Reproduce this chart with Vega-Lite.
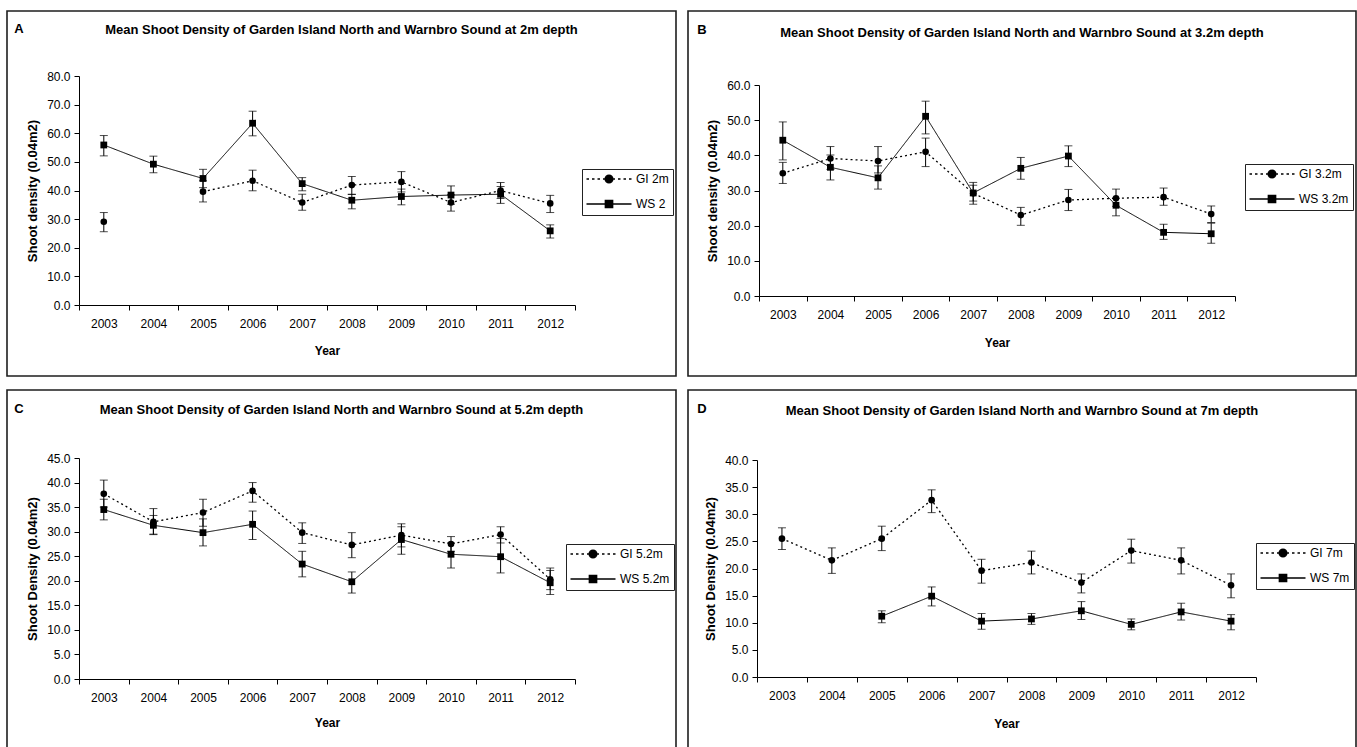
{
  "$schema": "https://vega.github.io/schema/vega-lite/v6.json",
  "padding": {"left": 6, "top": 10, "right": 0, "bottom": 0},
  "background": "white",
  "datasets": {
    "A": [
      {"year": 2003, "series": "GI 2m", "value": 29.1, "lo": 25.6, "hi": 32.3},
      {"year": 2004, "series": "GI 2m", "value": null, "lo": null, "hi": null},
      {"year": 2005, "series": "GI 2m", "value": 39.6, "lo": 36.0, "hi": 43.4},
      {"year": 2006, "series": "GI 2m", "value": 43.4, "lo": 39.9, "hi": 47.1},
      {"year": 2007, "series": "GI 2m", "value": 35.8, "lo": 33.1, "hi": 38.7},
      {"year": 2008, "series": "GI 2m", "value": 41.9, "lo": 38.6, "hi": 44.9},
      {"year": 2009, "series": "GI 2m", "value": 43.0, "lo": 39.5, "hi": 46.6},
      {"year": 2010, "series": "GI 2m", "value": 35.8, "lo": 32.8, "hi": 38.5},
      {"year": 2011, "series": "GI 2m", "value": 40.0, "lo": 37.2, "hi": 42.8},
      {"year": 2012, "series": "GI 2m", "value": 35.5, "lo": 32.3, "hi": 38.3},
      {"year": 2003, "series": "WS 2", "value": 55.9, "lo": 52.1, "hi": 59.2},
      {"year": 2004, "series": "WS 2", "value": 49.2, "lo": 46.2, "hi": 52.0},
      {"year": 2005, "series": "WS 2", "value": 44.2, "lo": 41.0, "hi": 47.4},
      {"year": 2006, "series": "WS 2", "value": 63.5, "lo": 59.1, "hi": 67.7},
      {"year": 2007, "series": "WS 2", "value": 42.4, "lo": 39.9, "hi": 44.5},
      {"year": 2008, "series": "WS 2", "value": 36.6, "lo": 33.6, "hi": 38.7},
      {"year": 2009, "series": "WS 2", "value": 37.9, "lo": 35.0, "hi": 40.5},
      {"year": 2010, "series": "WS 2", "value": 38.4, "lo": 35.2, "hi": 41.6},
      {"year": 2011, "series": "WS 2", "value": 38.7, "lo": 35.5, "hi": 41.4},
      {"year": 2012, "series": "WS 2", "value": 25.9, "lo": 23.4, "hi": 28.0}
    ],
    "B": [
      {"year": 2003, "series": "GI 3.2m", "value": 34.9, "lo": 32.0, "hi": 38.0},
      {"year": 2004, "series": "GI 3.2m", "value": 39.1, "lo": 36.0, "hi": 42.5},
      {"year": 2005, "series": "GI 3.2m", "value": 38.4, "lo": 35.0, "hi": 42.5},
      {"year": 2006, "series": "GI 3.2m", "value": 41.0, "lo": 36.8, "hi": 44.9},
      {"year": 2007, "series": "GI 3.2m", "value": 29.2, "lo": 27.0, "hi": 32.3},
      {"year": 2008, "series": "GI 3.2m", "value": 23.0, "lo": 20.1, "hi": 25.2},
      {"year": 2009, "series": "GI 3.2m", "value": 27.3, "lo": 24.3, "hi": 30.3},
      {"year": 2010, "series": "GI 3.2m", "value": 27.8, "lo": 25.5, "hi": 30.4},
      {"year": 2011, "series": "GI 3.2m", "value": 28.1, "lo": 25.8, "hi": 30.7},
      {"year": 2012, "series": "GI 3.2m", "value": 23.3, "lo": 20.9, "hi": 25.6},
      {"year": 2003, "series": "WS 3.2m", "value": 44.3, "lo": 38.7, "hi": 49.5},
      {"year": 2004, "series": "WS 3.2m", "value": 36.6, "lo": 33.0, "hi": 40.1},
      {"year": 2005, "series": "WS 3.2m", "value": 33.6, "lo": 30.4, "hi": 37.0},
      {"year": 2006, "series": "WS 3.2m", "value": 51.1, "lo": 46.1, "hi": 55.4},
      {"year": 2007, "series": "WS 3.2m", "value": 29.3, "lo": 26.1, "hi": 31.5},
      {"year": 2008, "series": "WS 3.2m", "value": 36.3, "lo": 33.2, "hi": 39.4},
      {"year": 2009, "series": "WS 3.2m", "value": 39.8, "lo": 36.8, "hi": 42.7},
      {"year": 2010, "series": "WS 3.2m", "value": 25.8, "lo": 22.8, "hi": 27.8},
      {"year": 2011, "series": "WS 3.2m", "value": 18.1, "lo": 16.1, "hi": 20.4},
      {"year": 2012, "series": "WS 3.2m", "value": 17.7, "lo": 15.0, "hi": 20.7}
    ],
    "C": [
      {"year": 2003, "series": "GI 5.2m", "value": 37.7, "lo": 35.0, "hi": 40.5},
      {"year": 2004, "series": "GI 5.2m", "value": 32.0, "lo": 29.5, "hi": 34.7},
      {"year": 2005, "series": "GI 5.2m", "value": 33.9, "lo": 31.1, "hi": 36.6},
      {"year": 2006, "series": "GI 5.2m", "value": 38.3, "lo": 36.0, "hi": 40.0},
      {"year": 2007, "series": "GI 5.2m", "value": 29.8, "lo": 27.6, "hi": 31.8},
      {"year": 2008, "series": "GI 5.2m", "value": 27.3, "lo": 24.7, "hi": 29.8},
      {"year": 2009, "series": "GI 5.2m", "value": 29.3, "lo": 26.9, "hi": 31.6},
      {"year": 2010, "series": "GI 5.2m", "value": 27.5, "lo": 26.0, "hi": 29.0},
      {"year": 2011, "series": "GI 5.2m", "value": 29.4, "lo": 27.7, "hi": 31.0},
      {"year": 2012, "series": "GI 5.2m", "value": 20.3, "lo": 18.2, "hi": 22.6},
      {"year": 2003, "series": "WS 5.2m", "value": 34.5, "lo": 32.4, "hi": 36.6},
      {"year": 2004, "series": "WS 5.2m", "value": 31.3, "lo": 29.4, "hi": 33.3},
      {"year": 2005, "series": "WS 5.2m", "value": 29.8, "lo": 27.1, "hi": 32.6},
      {"year": 2006, "series": "WS 5.2m", "value": 31.5, "lo": 28.4, "hi": 34.2},
      {"year": 2007, "series": "WS 5.2m", "value": 23.4, "lo": 20.8, "hi": 26.0},
      {"year": 2008, "series": "WS 5.2m", "value": 19.8, "lo": 17.5, "hi": 21.8},
      {"year": 2009, "series": "WS 5.2m", "value": 28.4, "lo": 25.4, "hi": 31.0},
      {"year": 2010, "series": "WS 5.2m", "value": 25.4, "lo": 22.6, "hi": 27.7},
      {"year": 2011, "series": "WS 5.2m", "value": 24.9, "lo": 21.6, "hi": 28.6},
      {"year": 2012, "series": "WS 5.2m", "value": 19.6, "lo": 17.2, "hi": 22.1}
    ],
    "D": [
      {"year": 2003, "series": "GI 7m", "value": 25.5, "lo": 23.5, "hi": 27.5},
      {"year": 2004, "series": "GI 7m", "value": 21.5, "lo": 19.1, "hi": 23.8},
      {"year": 2005, "series": "GI 7m", "value": 25.5, "lo": 23.3, "hi": 27.8},
      {"year": 2006, "series": "GI 7m", "value": 32.6, "lo": 30.3, "hi": 34.5},
      {"year": 2007, "series": "GI 7m", "value": 19.6, "lo": 17.3, "hi": 21.7},
      {"year": 2008, "series": "GI 7m", "value": 21.1, "lo": 19.0, "hi": 23.2},
      {"year": 2009, "series": "GI 7m", "value": 17.4, "lo": 15.5, "hi": 19.0},
      {"year": 2010, "series": "GI 7m", "value": 23.3, "lo": 21.0, "hi": 25.4},
      {"year": 2011, "series": "GI 7m", "value": 21.5, "lo": 19.0, "hi": 23.8},
      {"year": 2012, "series": "GI 7m", "value": 16.9, "lo": 14.6, "hi": 19.0},
      {"year": 2005, "series": "WS 7m", "value": 11.2, "lo": 10.0, "hi": 12.2},
      {"year": 2006, "series": "WS 7m", "value": 14.9, "lo": 13.1, "hi": 16.6},
      {"year": 2007, "series": "WS 7m", "value": 10.3, "lo": 8.8, "hi": 11.7},
      {"year": 2008, "series": "WS 7m", "value": 10.7, "lo": 9.7, "hi": 11.7},
      {"year": 2009, "series": "WS 7m", "value": 12.2, "lo": 10.6, "hi": 13.9},
      {"year": 2010, "series": "WS 7m", "value": 9.7, "lo": 8.7, "hi": 10.7},
      {"year": 2011, "series": "WS 7m", "value": 12.0, "lo": 10.5, "hi": 13.6},
      {"year": 2012, "series": "WS 7m", "value": 10.3, "lo": 8.7, "hi": 11.5}
    ]
  },
  "spacing": 12,
  "resolve": {"scale": {"shape": "independent", "stroke": "independent", "fill": "independent"}, "legend": {"shape": "independent", "stroke": "independent", "fill": "independent"}},
  "vconcat": [
    {
      "spacing": 10,
      "resolve": {"scale": {"shape": "independent", "stroke": "independent", "fill": "independent"}, "legend": {"shape": "independent", "stroke": "independent", "fill": "independent"}},
      "hconcat": [
        {
          "title": {"text": "A", "anchor": "start", "offset": -26, "dx": 8},
          "vconcat": [
            {
              "width": 669, "height": 365,
              "title": {"text": "Mean Shoot Density of Garden Island North and Warnbro Sound at 2m depth", "anchor": "middle", "offset": -26},
              "data": {"name": "A"},
              "encoding": {
                "x": {"field": "year", "type": "ordinal", "scale": {"type": "band", "domain": [2003, 2004, 2005, 2006, 2007, 2008, 2009, 2010, 2011, 2012], "range": [72, 568], "paddingInner": 0, "paddingOuter": 0},
                  "axis": {"title": "Year", "offset": -71, "labelAngle": 0, "tickBand": "extent", "tickSize": 5, "labelPadding": 8, "labelFontSize": 12, "titleFontSize": 12, "titlePadding": 16}}
              },
              "layer": [
                {
                  "mark": {"type": "line", "color": "black"},
                  "encoding": {
                    "y": {"field": "value", "type": "quantitative", "scale": {"domain": [0, 80], "range": [294, 65], "nice": false},
                      "axis": {"title": "Shoot density (0.04m2)", "offset": -72, "values": [0, 10, 20, 30, 40, 50, 60, 70, 80], "format": ".1f", "tickSize": 5, "labelPadding": 4, "labelFontSize": 12, "titleFontSize": 13, "titlePadding": 7}},
                    "detail": {"field": "series"},
                    "strokeDash": {"condition": {"test": "indexof(datum.series, 'GI') === 0", "value": [2, 3]}, "value": [1, 0]},
                    "strokeWidth": {"condition": {"test": "indexof(datum.series, 'GI') === 0", "value": 1.3}, "value": 1}
                  }
                },
                {
                  "mark": {"type": "errorbar", "color": "black", "ticks": {"size": 8, "color": "black"}, "orient": "vertical"},
                  "encoding": {
                    "y": {"field": "lo", "type": "quantitative", "scale": {"domain": [0, 80], "range": [294, 65], "nice": false},
                      "axis": {"title": "Shoot density (0.04m2)", "offset": -72, "values": [0, 10, 20, 30, 40, 50, 60, 70, 80], "format": ".1f", "tickSize": 5, "labelPadding": 4, "labelFontSize": 12, "titleFontSize": 13, "titlePadding": 7}},
                    "y2": {"field": "hi"},
                    "detail": {"field": "series"}
                  }
                },
                {
                  "mark": {"type": "point", "filled": true, "color": "black", "opacity": 1},
                  "encoding": {
                    "y": {"field": "value", "type": "quantitative"},
                    "shape": {"condition": {"test": "indexof(datum.series, 'GI') === 0", "value": "circle"}, "value": "square"},
                    "size": {"condition": {"test": "indexof(datum.series, 'GI') === 0", "value": 44}, "value": 46}
                  }
                },
                {
                  "mark": {"type": "point", "filled": false, "strokeWidth": 1.5, "opacity": 0},
                  "encoding": {
                    "y": {"field": "value", "type": "quantitative"},
                    "shape": {"field": "series", "type": "nominal",
                      "scale": {"domain": ["GI 2m", "WS 2"], "range": ["M-4.5,0H-4M-3.4,0H-2.9M-2.3,0H-1.8M-1.2,0H-0.8M0.8,0H1.2M1.8,0H2.3M2.9,0H3.4M4,0H4.5M0.76,0A0.76,0.76,0,1,1,-0.76,0A0.76,0.76,0,1,1,0.76,0Z", "M-4.5,0H4.5M-0.72,-0.72H0.72V0.72H-0.72Z"]},
                      "legend": {"orient": "none", "legendX": 575, "legendY": 158}},
                    "stroke": {"field": "series", "type": "nominal", "scale": {"domain": ["GI 2m", "WS 2"], "range": ["black", "black"]},
                      "legend": {"orient": "none", "legendX": 575, "legendY": 158}},
                    "fill": {"field": "series", "type": "nominal", "scale": {"domain": ["GI 2m", "WS 2"], "range": ["black", "black"]},
                      "legend": {"orient": "none", "legendX": 575, "legendY": 158}}
                  }
                }
              ]
            }
          ]
        },
        {
          "title": {"text": "B", "anchor": "start", "offset": -27, "dx": 10},
          "vconcat": [
            {
              "width": 668, "height": 365,
              "title": {"text": "Mean Shoot Density of Garden Island North and Warnbro Sound at 3.2m depth", "anchor": "middle", "offset": -29},
              "data": {"name": "B"},
              "encoding": {
                "x": {"field": "year", "type": "ordinal", "scale": {"type": "band", "domain": [2003, 2004, 2005, 2006, 2007, 2008, 2009, 2010, 2011, 2012], "range": [71, 547], "paddingInner": 0, "paddingOuter": 0},
                  "axis": {"title": "Year", "offset": -80, "labelAngle": 0, "tickBand": "extent", "tickSize": 5, "labelPadding": 8, "labelFontSize": 12, "titleFontSize": 12, "titlePadding": 17}}
              },
              "layer": [
                {
                  "mark": {"type": "line", "color": "black"},
                  "encoding": {
                    "y": {"field": "value", "type": "quantitative", "scale": {"domain": [0, 60], "range": [285, 74], "nice": false},
                      "axis": {"title": "Shoot density (0.04m2)", "offset": -71, "values": [0, 10, 20, 30, 40, 50, 60], "format": ".1f", "tickSize": 5, "labelPadding": 4, "labelFontSize": 12, "titleFontSize": 13, "titlePadding": 7}},
                    "detail": {"field": "series"},
                    "strokeDash": {"condition": {"test": "indexof(datum.series, 'GI') === 0", "value": [2, 3]}, "value": [1, 0]},
                    "strokeWidth": {"condition": {"test": "indexof(datum.series, 'GI') === 0", "value": 1.3}, "value": 1}
                  }
                },
                {
                  "mark": {"type": "errorbar", "color": "black", "ticks": {"size": 8, "color": "black"}, "orient": "vertical"},
                  "encoding": {
                    "y": {"field": "lo", "type": "quantitative", "scale": {"domain": [0, 60], "range": [285, 74], "nice": false},
                      "axis": {"title": "Shoot density (0.04m2)", "offset": -71, "values": [0, 10, 20, 30, 40, 50, 60], "format": ".1f", "tickSize": 5, "labelPadding": 4, "labelFontSize": 12, "titleFontSize": 13, "titlePadding": 7}},
                    "y2": {"field": "hi"},
                    "detail": {"field": "series"}
                  }
                },
                {
                  "mark": {"type": "point", "filled": true, "color": "black", "opacity": 1},
                  "encoding": {
                    "y": {"field": "value", "type": "quantitative"},
                    "shape": {"condition": {"test": "indexof(datum.series, 'GI') === 0", "value": "circle"}, "value": "square"},
                    "size": {"condition": {"test": "indexof(datum.series, 'GI') === 0", "value": 44}, "value": 46}
                  }
                },
                {
                  "mark": {"type": "point", "filled": false, "strokeWidth": 1.5, "opacity": 0},
                  "encoding": {
                    "y": {"field": "value", "type": "quantitative"},
                    "shape": {"field": "series", "type": "nominal",
                      "scale": {"domain": ["GI 3.2m", "WS 3.2m"], "range": ["M-4.5,0H-4M-3.4,0H-2.9M-2.3,0H-1.8M-1.2,0H-0.8M0.8,0H1.2M1.8,0H2.3M2.9,0H3.4M4,0H4.5M0.76,0A0.76,0.76,0,1,1,-0.76,0A0.76,0.76,0,1,1,0.76,0Z", "M-4.5,0H4.5M-0.72,-0.72H0.72V0.72H-0.72Z"]},
                      "legend": {"orient": "none", "legendX": 557, "legendY": 153}},
                    "stroke": {"field": "series", "type": "nominal", "scale": {"domain": ["GI 3.2m", "WS 3.2m"], "range": ["black", "black"]},
                      "legend": {"orient": "none", "legendX": 557, "legendY": 153}},
                    "fill": {"field": "series", "type": "nominal", "scale": {"domain": ["GI 3.2m", "WS 3.2m"], "range": ["black", "black"]},
                      "legend": {"orient": "none", "legendX": 557, "legendY": 153}}
                  }
                }
              ]
            }
          ]
        }
      ]
    },
    {
      "spacing": 10,
      "resolve": {"scale": {"shape": "independent", "stroke": "independent", "fill": "independent"}, "legend": {"shape": "independent", "stroke": "independent", "fill": "independent"}},
      "hconcat": [
        {
          "title": {"text": "C", "anchor": "start", "offset": -27, "dx": 8},
          "vconcat": [
            {
              "width": 669, "height": 365,
              "title": {"text": "Mean Shoot Density of Garden Island North and Warnbro Sound at 5.2m depth", "anchor": "middle", "offset": -27},
              "data": {"name": "C"},
              "encoding": {
                "x": {"field": "year", "type": "ordinal", "scale": {"type": "band", "domain": [2003, 2004, 2005, 2006, 2007, 2008, 2009, 2010, 2011, 2012], "range": [72, 568], "paddingInner": 0, "paddingOuter": 0},
                  "axis": {"title": "Year", "offset": -76, "labelAngle": 0, "tickBand": "extent", "tickSize": 5, "labelPadding": 8, "labelFontSize": 12, "titleFontSize": 12, "titlePadding": 14}}
              },
              "layer": [
                {
                  "mark": {"type": "line", "color": "black"},
                  "encoding": {
                    "y": {"field": "value", "type": "quantitative", "scale": {"domain": [0, 45], "range": [289, 68], "nice": false},
                      "axis": {"title": "Shoot Density (0.04m2)", "offset": -72, "values": [0, 5, 10, 15, 20, 25, 30, 35, 40, 45], "format": ".1f", "tickSize": 5, "labelPadding": 4, "labelFontSize": 12, "titleFontSize": 13, "titlePadding": 7}},
                    "detail": {"field": "series"},
                    "strokeDash": {"condition": {"test": "indexof(datum.series, 'GI') === 0", "value": [2, 3]}, "value": [1, 0]},
                    "strokeWidth": {"condition": {"test": "indexof(datum.series, 'GI') === 0", "value": 1.3}, "value": 1}
                  }
                },
                {
                  "mark": {"type": "errorbar", "color": "black", "ticks": {"size": 8, "color": "black"}, "orient": "vertical"},
                  "encoding": {
                    "y": {"field": "lo", "type": "quantitative", "scale": {"domain": [0, 45], "range": [289, 68], "nice": false},
                      "axis": {"title": "Shoot Density (0.04m2)", "offset": -72, "values": [0, 5, 10, 15, 20, 25, 30, 35, 40, 45], "format": ".1f", "tickSize": 5, "labelPadding": 4, "labelFontSize": 12, "titleFontSize": 13, "titlePadding": 7}},
                    "y2": {"field": "hi"},
                    "detail": {"field": "series"}
                  }
                },
                {
                  "mark": {"type": "point", "filled": true, "color": "black", "opacity": 1},
                  "encoding": {
                    "y": {"field": "value", "type": "quantitative"},
                    "shape": {"condition": {"test": "indexof(datum.series, 'GI') === 0", "value": "circle"}, "value": "square"},
                    "size": {"condition": {"test": "indexof(datum.series, 'GI') === 0", "value": 44}, "value": 46}
                  }
                },
                {
                  "mark": {"type": "point", "filled": false, "strokeWidth": 1.5, "opacity": 0},
                  "encoding": {
                    "y": {"field": "value", "type": "quantitative"},
                    "shape": {"field": "series", "type": "nominal",
                      "scale": {"domain": ["GI 5.2m", "WS 5.2m"], "range": ["M-4.5,0H-4M-3.4,0H-2.9M-2.3,0H-1.8M-1.2,0H-0.8M0.8,0H1.2M1.8,0H2.3M2.9,0H3.4M4,0H4.5M0.76,0A0.76,0.76,0,1,1,-0.76,0A0.76,0.76,0,1,1,0.76,0Z", "M-4.5,0H4.5M-0.72,-0.72H0.72V0.72H-0.72Z"]},
                      "legend": {"orient": "none", "legendX": 559, "legendY": 154}},
                    "stroke": {"field": "series", "type": "nominal", "scale": {"domain": ["GI 5.2m", "WS 5.2m"], "range": ["black", "black"]},
                      "legend": {"orient": "none", "legendX": 559, "legendY": 154}},
                    "fill": {"field": "series", "type": "nominal", "scale": {"domain": ["GI 5.2m", "WS 5.2m"], "range": ["black", "black"]},
                      "legend": {"orient": "none", "legendX": 559, "legendY": 154}}
                  }
                }
              ]
            }
          ]
        },
        {
          "title": {"text": "D", "anchor": "start", "offset": -27, "dx": 10},
          "vconcat": [
            {
              "width": 668, "height": 365,
              "title": {"text": "Mean Shoot Density of Garden Island North and Warnbro Sound at 7m depth", "anchor": "middle", "offset": -28},
              "data": {"name": "D"},
              "encoding": {
                "x": {"field": "year", "type": "ordinal", "scale": {"type": "band", "domain": [2003, 2004, 2005, 2006, 2007, 2008, 2009, 2010, 2011, 2012], "range": [69, 568], "paddingInner": 0, "paddingOuter": 0},
                  "axis": {"title": "Year", "offset": -78, "labelAngle": 0, "tickBand": "extent", "tickSize": 5, "labelPadding": 8, "labelFontSize": 12, "titleFontSize": 12, "titlePadding": 17}}
              },
              "layer": [
                {
                  "mark": {"type": "line", "color": "black"},
                  "encoding": {
                    "y": {"field": "value", "type": "quantitative", "scale": {"domain": [0, 40], "range": [287, 70], "nice": false},
                      "axis": {"title": "Shoot Density (0.04m2)", "offset": -69, "values": [0, 5, 10, 15, 20, 25, 30, 35, 40], "format": ".1f", "tickSize": 5, "labelPadding": 4, "labelFontSize": 12, "titleFontSize": 13, "titlePadding": 7}},
                    "detail": {"field": "series"},
                    "strokeDash": {"condition": {"test": "indexof(datum.series, 'GI') === 0", "value": [2, 3]}, "value": [1, 0]},
                    "strokeWidth": {"condition": {"test": "indexof(datum.series, 'GI') === 0", "value": 1.3}, "value": 1}
                  }
                },
                {
                  "mark": {"type": "errorbar", "color": "black", "ticks": {"size": 8, "color": "black"}, "orient": "vertical"},
                  "encoding": {
                    "y": {"field": "lo", "type": "quantitative", "scale": {"domain": [0, 40], "range": [287, 70], "nice": false},
                      "axis": {"title": "Shoot Density (0.04m2)", "offset": -69, "values": [0, 5, 10, 15, 20, 25, 30, 35, 40], "format": ".1f", "tickSize": 5, "labelPadding": 4, "labelFontSize": 12, "titleFontSize": 13, "titlePadding": 7}},
                    "y2": {"field": "hi"},
                    "detail": {"field": "series"}
                  }
                },
                {
                  "mark": {"type": "point", "filled": true, "color": "black", "opacity": 1},
                  "encoding": {
                    "y": {"field": "value", "type": "quantitative"},
                    "shape": {"condition": {"test": "indexof(datum.series, 'GI') === 0", "value": "circle"}, "value": "square"},
                    "size": {"condition": {"test": "indexof(datum.series, 'GI') === 0", "value": 44}, "value": 46}
                  }
                },
                {
                  "mark": {"type": "point", "filled": false, "strokeWidth": 1.5, "opacity": 0},
                  "encoding": {
                    "y": {"field": "value", "type": "quantitative"},
                    "shape": {"field": "series", "type": "nominal",
                      "scale": {"domain": ["GI 7m", "WS 7m"], "range": ["M-4.5,0H-4M-3.4,0H-2.9M-2.3,0H-1.8M-1.2,0H-0.8M0.8,0H1.2M1.8,0H2.3M2.9,0H3.4M4,0H4.5M0.76,0A0.76,0.76,0,1,1,-0.76,0A0.76,0.76,0,1,1,0.76,0Z", "M-4.5,0H4.5M-0.72,-0.72H0.72V0.72H-0.72Z"]},
                      "legend": {"orient": "none", "legendX": 568, "legendY": 153}},
                    "stroke": {"field": "series", "type": "nominal", "scale": {"domain": ["GI 7m", "WS 7m"], "range": ["black", "black"]},
                      "legend": {"orient": "none", "legendX": 568, "legendY": 153}},
                    "fill": {"field": "series", "type": "nominal", "scale": {"domain": ["GI 7m", "WS 7m"], "range": ["black", "black"]},
                      "legend": {"orient": "none", "legendX": 568, "legendY": 153}}
                  }
                }
              ]
            }
          ]
        }
      ]
    }
  ],
  "config": {
    "font": "Liberation Sans",
    "view": {"stroke": "#1e1e1e", "strokeWidth": 1.6},
    "title": {"font": "Liberation Sans", "fontSize": 13, "fontWeight": "bold", "color": "black"},
    "axis": {"grid": false, "domainColor": "black", "tickColor": "black", "labelColor": "black", "titleColor": "black", "labelFont": "Liberation Sans", "titleFont": "Liberation Sans", "titleFontWeight": "bold", "domainWidth": 1, "tickWidth": 1},
    "legend": {"title": null, "strokeColor": "#222222", "fillColor": "white", "padding": 4, "symbolSize": 100, "symbolOffset": 17, "symbolStrokeWidth": 1.5, "symbolOpacity": 1, "labelFont": "Liberation Sans", "labelFontSize": 12, "labelColor": "black", "labelOffset": 21, "rowPadding": 11}
  }
}
